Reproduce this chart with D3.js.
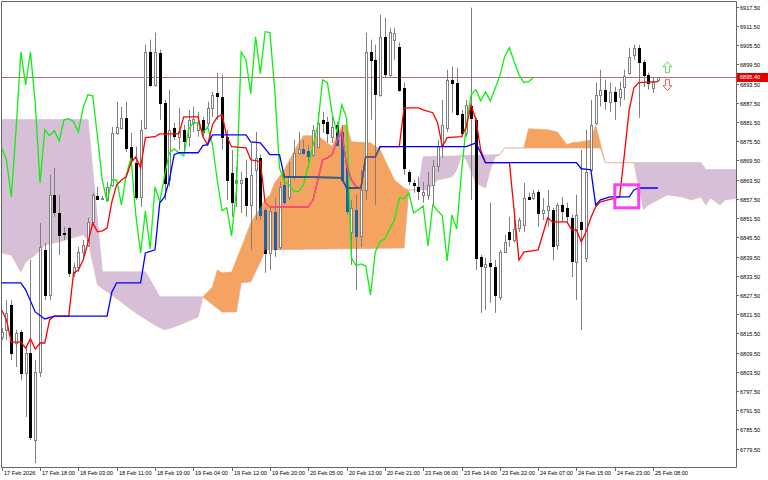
<!DOCTYPE html>
<html>
<head>
<meta charset="utf-8">
<script src="https://cdn.jsdelivr.net/npm/d3@7/dist/d3.min.js"></script>
<style>
  body { margin: 0; background: #fff; }
  svg { display: block; }
  text { font-family: "Liberation Sans", Arial, sans-serif; font-size: 5.6px; fill: #000; }
</style>
</head>
<body>
<script>
// hourly candles, bar 0 = 17 Feb 2026 10:00
const opens = [6814.4,6816.6,6824.4,6812.5,6815.9,6803.1,6809.4,6782.2,6803.4,6841.6,
  6827.5,6858.8,6853.1,6846.9,6848.4,6834.4,6836.3,6840.9,6843.1,6850.3,
  6858.4,6857.7,6857.2,6861.9,6878.1,6879.7,6882.8,6873.8,6868.8,6858.1,
  6879.7,6903.4,6893.1,6903.1,6887.5,6863.4,6879.7,6876.9,6879.1,6876.9,
  6881.3,6879.1,6882.2,6881.3,6885.9,6890.6,6889.4,6876.9,6865.6,6862.5,
  6862.5,6864.1,6855.6,6866.6,6870.3,6854.1,6840.6,6853.4,6842.5,6861.9,
  6858.1,6864.4,6871.9,6873.1,6872.5,6871.3,6873.8,6882.2,6881.6,6876.9,
  6880.6,6878.4,6867.5,6847.2,6854.1,6845.9,6860.3,6903.4,6900.9,6890.0,
  6908.1,6896.3,6907.2,6905.0,6892.2,6865.9,6862.5,6861.3,6858.8,6858.8,
  6861.9,6867.8,6874.1,6879.7,6894.7,6893.8,6884.1,6878.1,6886.6,6882.2,
  6839.4,6836.3,6837.5,6836.3,6826.9,6840.9,6847.2,6844.7,6848.4,6849.4,
  6858.1,6857.8,6859.7,6853.1,6854.1,6854.1,6843.1,6855.6,6854.7,6851.6,
  6837.8,6850.3,6839.1,6866.6,6881.3,6890.0,6891.6,6887.8,6890.9,6889.4,
  6892.5,6896.9,6902.5,6904.7,6900.3,6896.3,6892.2,6894.7];
const highs = [6817.2,6825.9,6825.9,6816.6,6816.6,6811.3,6838.4,6807.2,6850.0,6843.8,
  6865.0,6867.2,6858.8,6848.8,6848.8,6837.5,6842.5,6844.7,6851.6,6859.4,
  6861.3,6858.4,6862.8,6880.0,6887.8,6886.3,6887.8,6878.1,6873.8,6882.2,
  6905.6,6907.2,6909.4,6904.1,6888.4,6891.6,6881.3,6885.9,6880.6,6885.3,
  6886.3,6884.7,6883.1,6887.8,6890.9,6896.9,6896.3,6879.1,6872.8,6867.5,
  6865.9,6869.7,6875.0,6878.4,6871.3,6855.0,6855.0,6857.8,6862.8,6865.0,
  6868.8,6875.9,6878.4,6875.9,6874.4,6880.6,6884.4,6884.7,6883.1,6883.1,
  6881.6,6880.6,6868.8,6857.2,6858.8,6866.6,6909.4,6907.2,6905.6,6915.0,
  6914.1,6910.9,6910.9,6906.3,6893.8,6866.6,6863.4,6864.4,6862.8,6865.9,
  6869.7,6875.9,6888.4,6897.8,6898.8,6898.4,6885.3,6888.4,6917.2,6882.8,
  6840.0,6839.1,6856.3,6838.4,6841.6,6846.3,6851.9,6852.5,6851.6,6862.5,
  6859.4,6860.3,6860.3,6857.8,6860.3,6854.7,6856.3,6858.1,6856.3,6852.5,
  6858.8,6872.8,6879.1,6888.4,6893.8,6897.8,6894.7,6893.8,6892.5,6894.1,
  6897.8,6904.7,6905.6,6905.6,6900.9,6896.9,6895.6,6895.6];
const lows = [6813.4,6813.4,6807.2,6805.0,6800.9,6789.4,6782.2,6775.0,6801.9,6825.9,
  6825.9,6851.9,6840.0,6844.7,6833.1,6833.1,6834.7,6839.4,6842.5,6850.0,
  6857.2,6857.2,6856.6,6861.3,6877.5,6879.1,6872.2,6867.5,6857.2,6855.0,
  6879.1,6892.5,6892.5,6882.2,6857.2,6861.3,6875.9,6872.8,6871.9,6873.8,
  6878.4,6876.9,6876.9,6880.0,6883.1,6882.2,6872.8,6857.2,6851.9,6855.0,
  6853.1,6851.9,6841.6,6850.9,6850.9,6834.4,6835.3,6839.4,6841.6,6855.6,
  6857.2,6863.4,6871.3,6871.3,6869.1,6870.6,6873.4,6878.1,6875.0,6875.0,
  6873.8,6862.5,6852.5,6836.9,6829.1,6842.5,6857.2,6882.2,6855.6,6889.4,
  6895.3,6895.3,6900.9,6890.9,6865.0,6861.9,6859.4,6857.2,6856.3,6857.2,
  6855.0,6865.9,6870.3,6878.4,6884.4,6883.4,6876.9,6876.9,6857.2,6835.3,
  6821.9,6822.8,6825.0,6821.9,6825.9,6840.6,6842.5,6843.8,6847.2,6847.2,
  6857.2,6857.2,6848.8,6850.9,6848.8,6838.4,6841.6,6850.3,6850.0,6833.1,
  6825.9,6816.6,6837.8,6865.9,6880.6,6886.3,6885.3,6884.7,6882.2,6886.3,
  6888.4,6896.3,6900.9,6882.8,6892.5,6891.6,6890.6,6894.1];
const closes = [6815.9,6821.9,6809.4,6815.6,6803.1,6809.4,6783.1,6803.4,6842.5,6827.5,
  6858.8,6853.4,6846.3,6846.6,6834.4,6836.3,6840.9,6843.1,6850.3,6858.8,
  6857.5,6857.8,6861.3,6878.1,6880.0,6882.8,6873.4,6869.7,6858.1,6879.1,
  6903.4,6893.1,6903.4,6887.5,6862.5,6879.1,6877.2,6878.8,6875.6,6882.2,
  6882.5,6881.6,6878.4,6885.9,6890.0,6889.7,6876.9,6863.4,6856.6,6863.4,
  6863.4,6855.6,6865.0,6870.3,6852.5,6840.6,6853.8,6841.9,6861.3,6856.6,
  6864.7,6871.9,6873.1,6871.9,6870.9,6879.1,6881.3,6881.3,6878.1,6880.0,
  6874.4,6863.4,6853.8,6854.7,6845.9,6860.3,6903.4,6900.9,6890.3,6908.1,
  6896.6,6909.7,6909.4,6891.6,6867.2,6863.1,6861.9,6860.0,6859.7,6861.9,
  6867.8,6874.1,6880.6,6894.7,6893.8,6884.1,6878.1,6886.9,6882.8,6839.1,
  6836.6,6837.2,6836.6,6827.5,6840.9,6844.1,6845.0,6848.1,6850.9,6857.8,
  6857.5,6859.4,6853.1,6854.1,6855.3,6842.8,6855.6,6853.8,6852.2,6838.1,
  6852.5,6848.1,6865.9,6880.6,6890.0,6891.6,6888.1,6890.9,6888.1,6891.9,
  6895.9,6901.9,6904.7,6900.3,6896.3,6893.8,6894.1,6895.4];

// ichimoku lines as [bar, price]
const tenkan = [[0,6822.8],[1,6819.7],[2,6812.8],[4,6812.8],[5,6810.9],[6,6813.8],[7,6810.6],[8,6812.5],[9,6812.5],
  [10,6819.7],[11,6820.9],[14,6820.9],[15,6834.4],[16,6835.3],[17,6838.4],[18,6843.8],[19,6850.0],[20,6847.2],
  [21,6847.5],[22,6848.4],[23,6856.6],[24,6861.9],[25,6863.4],[26,6864.4],[27,6868.8],[28,6870.6],[29,6867.2],
  [30,6876.6],[32,6876.9],[33,6877.8],[37,6877.8],[38,6883.1],[41,6883.1],[42,6876.9],[43,6874.4],[44,6880.6],
  [45,6883.1],[46,6883.8],[47,6876.9],[48,6873.8],[51,6873.4],[52,6869.7],[54,6869.1],[55,6856.3],[56,6855.0],
  [64,6855.0],[65,6857.2],[66,6863.4],[67,6869.7],[68,6870.3],[69,6871.3],[70,6875.9],[71,6878.4],[72,6868.1],
  [73,6863.4],[74,6861.3],[75,6860.9],[76,6870.6],[78,6870.6],[79,6873.8],[83,6873.8],[84,6885.9],[87,6885.9],
  [88,6885.3],[90,6884.4],[91,6881.3],[92,6873.8],[93,6876.6],[96,6876.9],[97,6880.0],[98,6886.9],[99,6882.2],
  [100,6872.8],[101,6868.8],[106,6868.8],[108,6838.4],[109,6840.9],[112,6841.6],[114,6851.6],[115,6850.3],
  [118,6850.3],[119,6847.8],[120,6847.8],[121,6844.1],[122,6847.2],[123,6851.6],[124,6855.0],[125,6856.6],
  [129,6858.1],[130,6871.3],[131,6885.3],[132,6892.2],[133,6893.8],[137,6894.1]];
const kijun = [[0,6831.3],[4,6831.3],[5,6829.1],[7,6822.2],[9,6820.0],[11,6820.9],[22,6820.9],[23,6828.4],
  [24,6831.3],[29,6831.3],[30,6840.6],[32,6841.6],[33,6856.3],[34,6858.1],[35,6863.4],[36,6871.3],[37,6871.9],
  [41,6871.9],[42,6874.1],[43,6874.4],[44,6877.5],[51,6877.5],[52,6875.3],[54,6875.0],[56,6871.3],[58,6871.3],
  [59,6864.4],[71,6864.1],[72,6860.9],[75,6860.9],[76,6870.6],[78,6870.6],[79,6873.8],[97,6873.8],[99,6875.0],
  [100,6871.9],[101,6868.8],[120,6868.8],[121,6866.9],[123,6866.6],[124,6855.6],[125,6857.2],[127,6858.1],
  [131,6858.1],[132,6860.3],[133,6860.9],[137,6860.9]];
const spanA = [[0,6840.6],[2,6840.0],[4,6834.7],[5,6837.8],[7,6840.0],[9,6843.1],[12,6844.1],[17,6846.3],
  [18,6844.7],[20,6830.6],[23,6827.5],[28,6821.9],[32,6818.1],[34,6816.6],[36,6817.5],[41,6820.6],[42,6826.9],
  [44,6830.0],[45,6835.3],[46,6834.4],[48,6834.7],[50,6842.2],[52,6850.0],[55,6857.2],[56,6858.8],[57,6862.5],
  [59,6866.6],[62,6875.0],[63,6877.2],[66,6877.2],[69,6873.8],[70,6877.5],[71,6880.0],[72,6880.9],[73,6875.3],
  [77,6875.0],[79,6872.8],[80,6869.7],[82,6863.4],[84,6860.9],[85,6860.3],[89,6860.3],[91,6863.4],[94,6864.4],
  [95,6866.6],[96,6871.3],[97,6869.7],[99,6862.5],[101,6860.9],[102,6866.6],[103,6870.6],[104,6871.3],
  [105,6873.4],[109,6873.4],[110,6879.4],[114,6879.1],[116,6878.4],[118,6874.4],[119,6875.0],[121,6875.3],
  [123,6875.9],[124,6880.6],[126,6868.8],[132,6868.8],[134,6854.1],[135,6855.6],[139,6858.8],[142,6858.1],
  [144,6857.2],[146,6858.1],[147,6855.6],[148,6857.8],[150,6855.6],[151,6857.2],[154,6857.8]];
const spanB = [[0,6882.2],[18,6882.2],[21,6834.7],[30,6834.7],[31,6832.2],[33,6826.9],[42,6826.9],[46,6822.2],
  [49,6822.2],[50,6831.3],[52,6831.6],[54,6837.8],[55,6841.6],[84,6842.2],[85,6860.3],[87,6860.3],[88,6870.6],
  [104,6871.3],[105,6873.4],[125,6873.4],[126,6868.8],[146,6868.8],[147,6866.6],[154,6866.6]];

const priceTicks = d3.range(0, 24).map(k => 6917.5 - 6 * k);
const timeLabels = ["17 Feb 2026","17 Feb 18:00","18 Feb 03:00","18 Feb 11:00","18 Feb 19:00","19 Feb 04:00",
  "19 Feb 12:00","19 Feb 20:00","20 Feb 05:00","20 Feb 13:00","20 Feb 21:00","23 Feb 06:00","23 Feb 14:00",
  "23 Feb 22:00","24 Feb 07:00","24 Feb 15:00","24 Feb 23:00","25 Feb 08:00"];
const labelStep = 8;
const shift = 26;
const box = { from: 128, to: 133, top: 6861.9, bottom: 6854.7 };
const arrows = [{ dir: "up", bar: 139, price: 6898.6 }, { dir: "down", bar: 139, price: 6893.0 }];

const W = 768, H = 480;
const R = 736, B = 467;

const svg = d3.select("body").append("svg").attr("width", W).attr("height", H);
const x = d3.scaleLinear().domain([0, 137]).range([1.7, 657.9]);
const y = d3.scaleLinear().domain([6917.5, 6779.5]).range([6.7, 448.7]);

const defs = svg.append("defs");
defs.append("clipPath").attr("id", "plot").append("rect")
  .attr("x", 1).attr("y", 1).attr("width", R - 1).attr("height", B - 1);

const toTop = d3.area().x(d => x(d[0])).y0(0).y1(d => y(d[1]));
const toBottom = d3.area().x(d => x(d[0])).y0(H).y1(d => y(d[1]));
defs.append("clipPath").attr("id", "aboveA").append("path").attr("d", toTop(spanA));
defs.append("clipPath").attr("id", "belowA").append("path").attr("d", toBottom(spanA));
defs.append("clipPath").attr("id", "aboveB").append("path").attr("d", toTop(spanB));
defs.append("clipPath").attr("id", "belowB").append("path").attr("d", toBottom(spanB));

// orange = spanA above spanB, purple = spanB above spanA
function orange(parent) {
  return parent.append("g").attr("clip-path", "url(#belowA)")
    .append("g").attr("clip-path", "url(#aboveB)");
}
function purple(parent) {
  return parent.append("g").attr("clip-path", "url(#aboveA)")
    .append("g").attr("clip-path", "url(#belowB)");
}

const g = svg.append("g").attr("clip-path", "url(#plot)");
const line = d3.line().x(d => x(d[0])).y(d => y(d[1]));

// cloud
g.append("path").attr("d", line(spanB)).attr("fill", "none").attr("stroke", "#d8bfd8").attr("stroke-width", 1);
g.append("path").attr("d", line(spanA)).attr("fill", "none").attr("stroke", "#f7c9a2").attr("stroke-width", 1);
orange(g).append("rect").attr("x", 0).attr("y", 0).attr("width", W).attr("height", H).attr("fill", "#f4a460");
purple(g).append("rect").attr("x", 0).attr("y", 0).attr("width", W).attr("height", H).attr("fill", "#d8bfd8");

// bid line
const last = closes[closes.length - 1];
g.append("line").attr("x1", 0).attr("x2", R).attr("y1", Math.round(y(last)) + 0.5).attr("y2", Math.round(y(last)) + 0.5)
  .attr("stroke", "#b86b6b").attr("stroke-width", 1);

// candles
const bars = closes.map((c, i) => ({ i, o: opens[i], h: highs[i], l: lows[i], c }));
const px = v => Math.round(v) + 0.5;
function drawBodies(sel, data, fillBull, fillBear, strokeBull, strokeBear) {
  sel.selectAll("rect").data(data).join("rect")
    .attr("x", d => Math.round(x(d.i)) - 0.5)
    .attr("width", 2)
    .attr("y", d => px(y(Math.max(d.o, d.c))))
    .attr("height", d => Math.max(1, px(y(Math.min(d.o, d.c))) - px(y(Math.max(d.o, d.c)))))
    .attr("fill", d => d.c >= d.o ? fillBull : fillBear)
    .attr("stroke", d => d.c >= d.o ? strokeBull : strokeBear)
    .attr("stroke-width", 1);
}
g.append("g").selectAll("line").data(bars).join("line")
  .attr("x1", d => px(x(d.i))).attr("x2", d => px(x(d.i)))
  .attr("y1", d => y(d.h)).attr("y2", d => y(d.l))
  .attr("stroke", "#808080").attr("stroke-width", 1);
drawBodies(g.append("g"), bars, "#fff", "#000", "#808080", "#000");
drawBodies(orange(g), bars.filter(d => d.c < d.o), "#fff", "#1b63ad", "#808080", "#1b63ad");

// chikou = close shifted back
const chikou = closes.slice(shift).map((c, i) => [i, c]);
g.append("path").attr("d", line(chikou)).attr("fill", "none").attr("stroke", "#11ee11").attr("stroke-width", 1.3);
g.append("path").attr("d", line(tenkan)).attr("fill", "none").attr("stroke", "#ff0000").attr("stroke-width", 1.3);
g.append("path").attr("d", line(kijun)).attr("fill", "none").attr("stroke", "#0000ff").attr("stroke-width", 1.3);
const og = orange(g);
og.append("path").attr("d", line(tenkan)).attr("fill", "none").attr("stroke", "#f2559b").attr("stroke-width", 1.3);
og.append("path").attr("d", line(kijun)).attr("fill", "none").attr("stroke", "#2d6a6e").attr("stroke-width", 1.3);

// highlight box
g.append("rect")
  .attr("x", x(box.from)).attr("y", y(box.top))
  .attr("width", x(box.to) - x(box.from)).attr("height", y(box.bottom) - y(box.top))
  .attr("fill", "none").attr("stroke", "#ff3cf5").attr("stroke-width", 3);

// arrows
arrows.forEach(a => {
  const cx = x(a.bar), cy = y(a.price), s = a.dir === "up" ? -1 : 1;
  const pts = [[0, 5.5 * s], [4.5, 0.5 * s], [2, 0.5 * s], [2, -5.5 * s], [-2, -5.5 * s], [-2, 0.5 * s], [-4.5, 0.5 * s]];
  g.append("path").attr("d", "M" + pts.map(p => [cx + p[0], cy + p[1]].join(",")).join("L") + "Z")
    .attr("fill", "#fff").attr("stroke", a.dir === "up" ? "#55dd55" : "#ff5555").attr("stroke-width", 1);
});

// frame
svg.append("path").attr("d", `M1.5,${B + 0.5}V1.5H${R + 0.5}V${B + 0.5}H1.5`)
  .attr("fill", "none").attr("stroke", "#666").attr("stroke-width", 1);

// price axis
const ya = svg.append("g");
priceTicks.forEach(v => {
  const yy = px(y(v));
  ya.append("line").attr("x1", R).attr("x2", R + 3).attr("y1", yy).attr("y2", yy).attr("stroke", "#666");
  ya.append("text").attr("x", R + 4).attr("y", yy + 2).text(v.toFixed(2));
});
const ly = y(last);
svg.append("rect").attr("x", R + 1).attr("y", ly - 4.5).attr("width", W - R - 1).attr("height", 9).attr("fill", "#e10000");
svg.append("text").attr("x", R + 4).attr("y", ly + 2).attr("fill", "#fff").style("fill", "#fff").text(last.toFixed(2));

// time axis
const xa = svg.append("g");
timeLabels.forEach((t, k) => {
  const xx = px(x(k * labelStep));
  xa.append("line").attr("x1", xx).attr("x2", xx).attr("y1", B).attr("y2", B + 4).attr("stroke", "#666");
  xa.append("text").attr("x", xx + 1.5).attr("y", B + 8).text(t);
});
</script>
</body>
</html>
